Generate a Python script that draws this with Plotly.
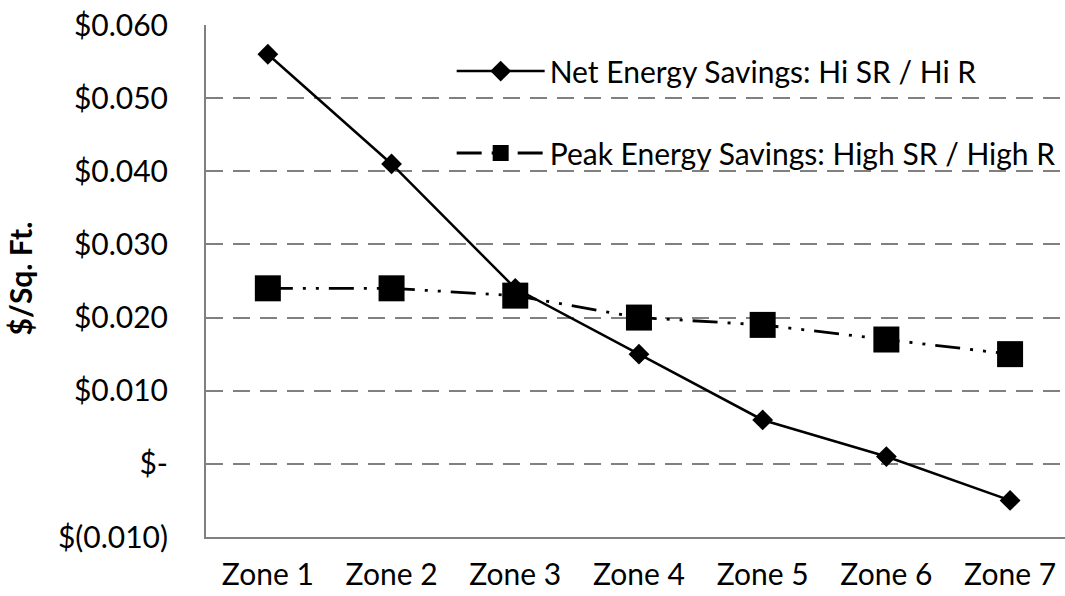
import plotly.graph_objects as go

zones = ["Zone 1", "Zone 2", "Zone 3", "Zone 4", "Zone 5", "Zone 6", "Zone 7"]
net_savings = [0.056, 0.041, 0.024, 0.015, 0.006, 0.001, -0.005]
peak_savings = [0.024, 0.024, 0.023, 0.020, 0.019, 0.017, 0.015]
y_tick_vals = [-0.01, 0.0, 0.01, 0.02, 0.03, 0.04, 0.05, 0.06]
y_tick_text = ["$(0.010)", "$-", "$0.010", "$0.020", "$0.030", "$0.040", "$0.050", "$0.060"]

FONT = "Lato"
FS = 30

fig = go.Figure()
fig.add_trace(go.Scatter(
    x=list(range(len(zones))), y=net_savings, mode="lines+markers",
    name="Net Energy Savings: Hi SR / Hi R",
    line=dict(color="black", width=2.5),
    marker=dict(symbol="diamond", size=16, color="black"),
    legend="legend",
))
fig.add_trace(go.Scatter(
    x=list(range(len(zones))), y=peak_savings, mode="lines+markers",
    name="Peak Energy Savings: High SR / High R",
    line=dict(color="black", width=2.8, dash="25px,10px,3px,10px,3px,10px"),
    marker=dict(symbol="square", size=26, color="black"),
    legend="legend2",
))

fig.update_layout(
    width=1065, height=596,
    margin=dict(l=206, r=0, t=25, b=59),
    paper_bgcolor="white", plot_bgcolor="white",
    font=dict(family=FONT, size=FS, color="black"),
    legend=dict(x=0.286, y=0.910, xanchor="left", yanchor="middle",
                bgcolor="rgba(0,0,0,0)", itemwidth=88, font=dict(size=FS)),
    legend2=dict(x=0.286, y=0.750, xanchor="left", yanchor="middle",
                 bgcolor="rgba(0,0,0,0)", itemwidth=88, font=dict(size=FS)),
    showlegend=True,
)
fig.update_xaxes(
    range=[-0.5, 6.444], tickvals=list(range(len(zones))), ticktext=zones,
    showgrid=False, showline=True, linecolor="#808080", linewidth=2,
    ticks="", ticklabelstandoff=10, zeroline=False, automargin=False,
)
fig.update_yaxes(
    range=[-0.01, 0.06], tickvals=y_tick_vals, ticktext=y_tick_text,
    showgrid=True, gridcolor="#808080", gridwidth=2, griddash="17px,10px",
    showline=True, linecolor="#808080", linewidth=2, zeroline=False,
    ticks="", ticklabelstandoff=30, automargin=False,
)
fig.add_annotation(
    text="<b>$/Sq. Ft.</b>", xref="paper", yref="paper", x=-0.2165, y=0.505,
    textangle=-90, showarrow=False, font=dict(family=FONT, size=FS),
    xanchor="center", yanchor="middle",
)
fig.write_html("out.html", config={"displayModeBar": False},
               post_script="document.body.style.margin='0';")
